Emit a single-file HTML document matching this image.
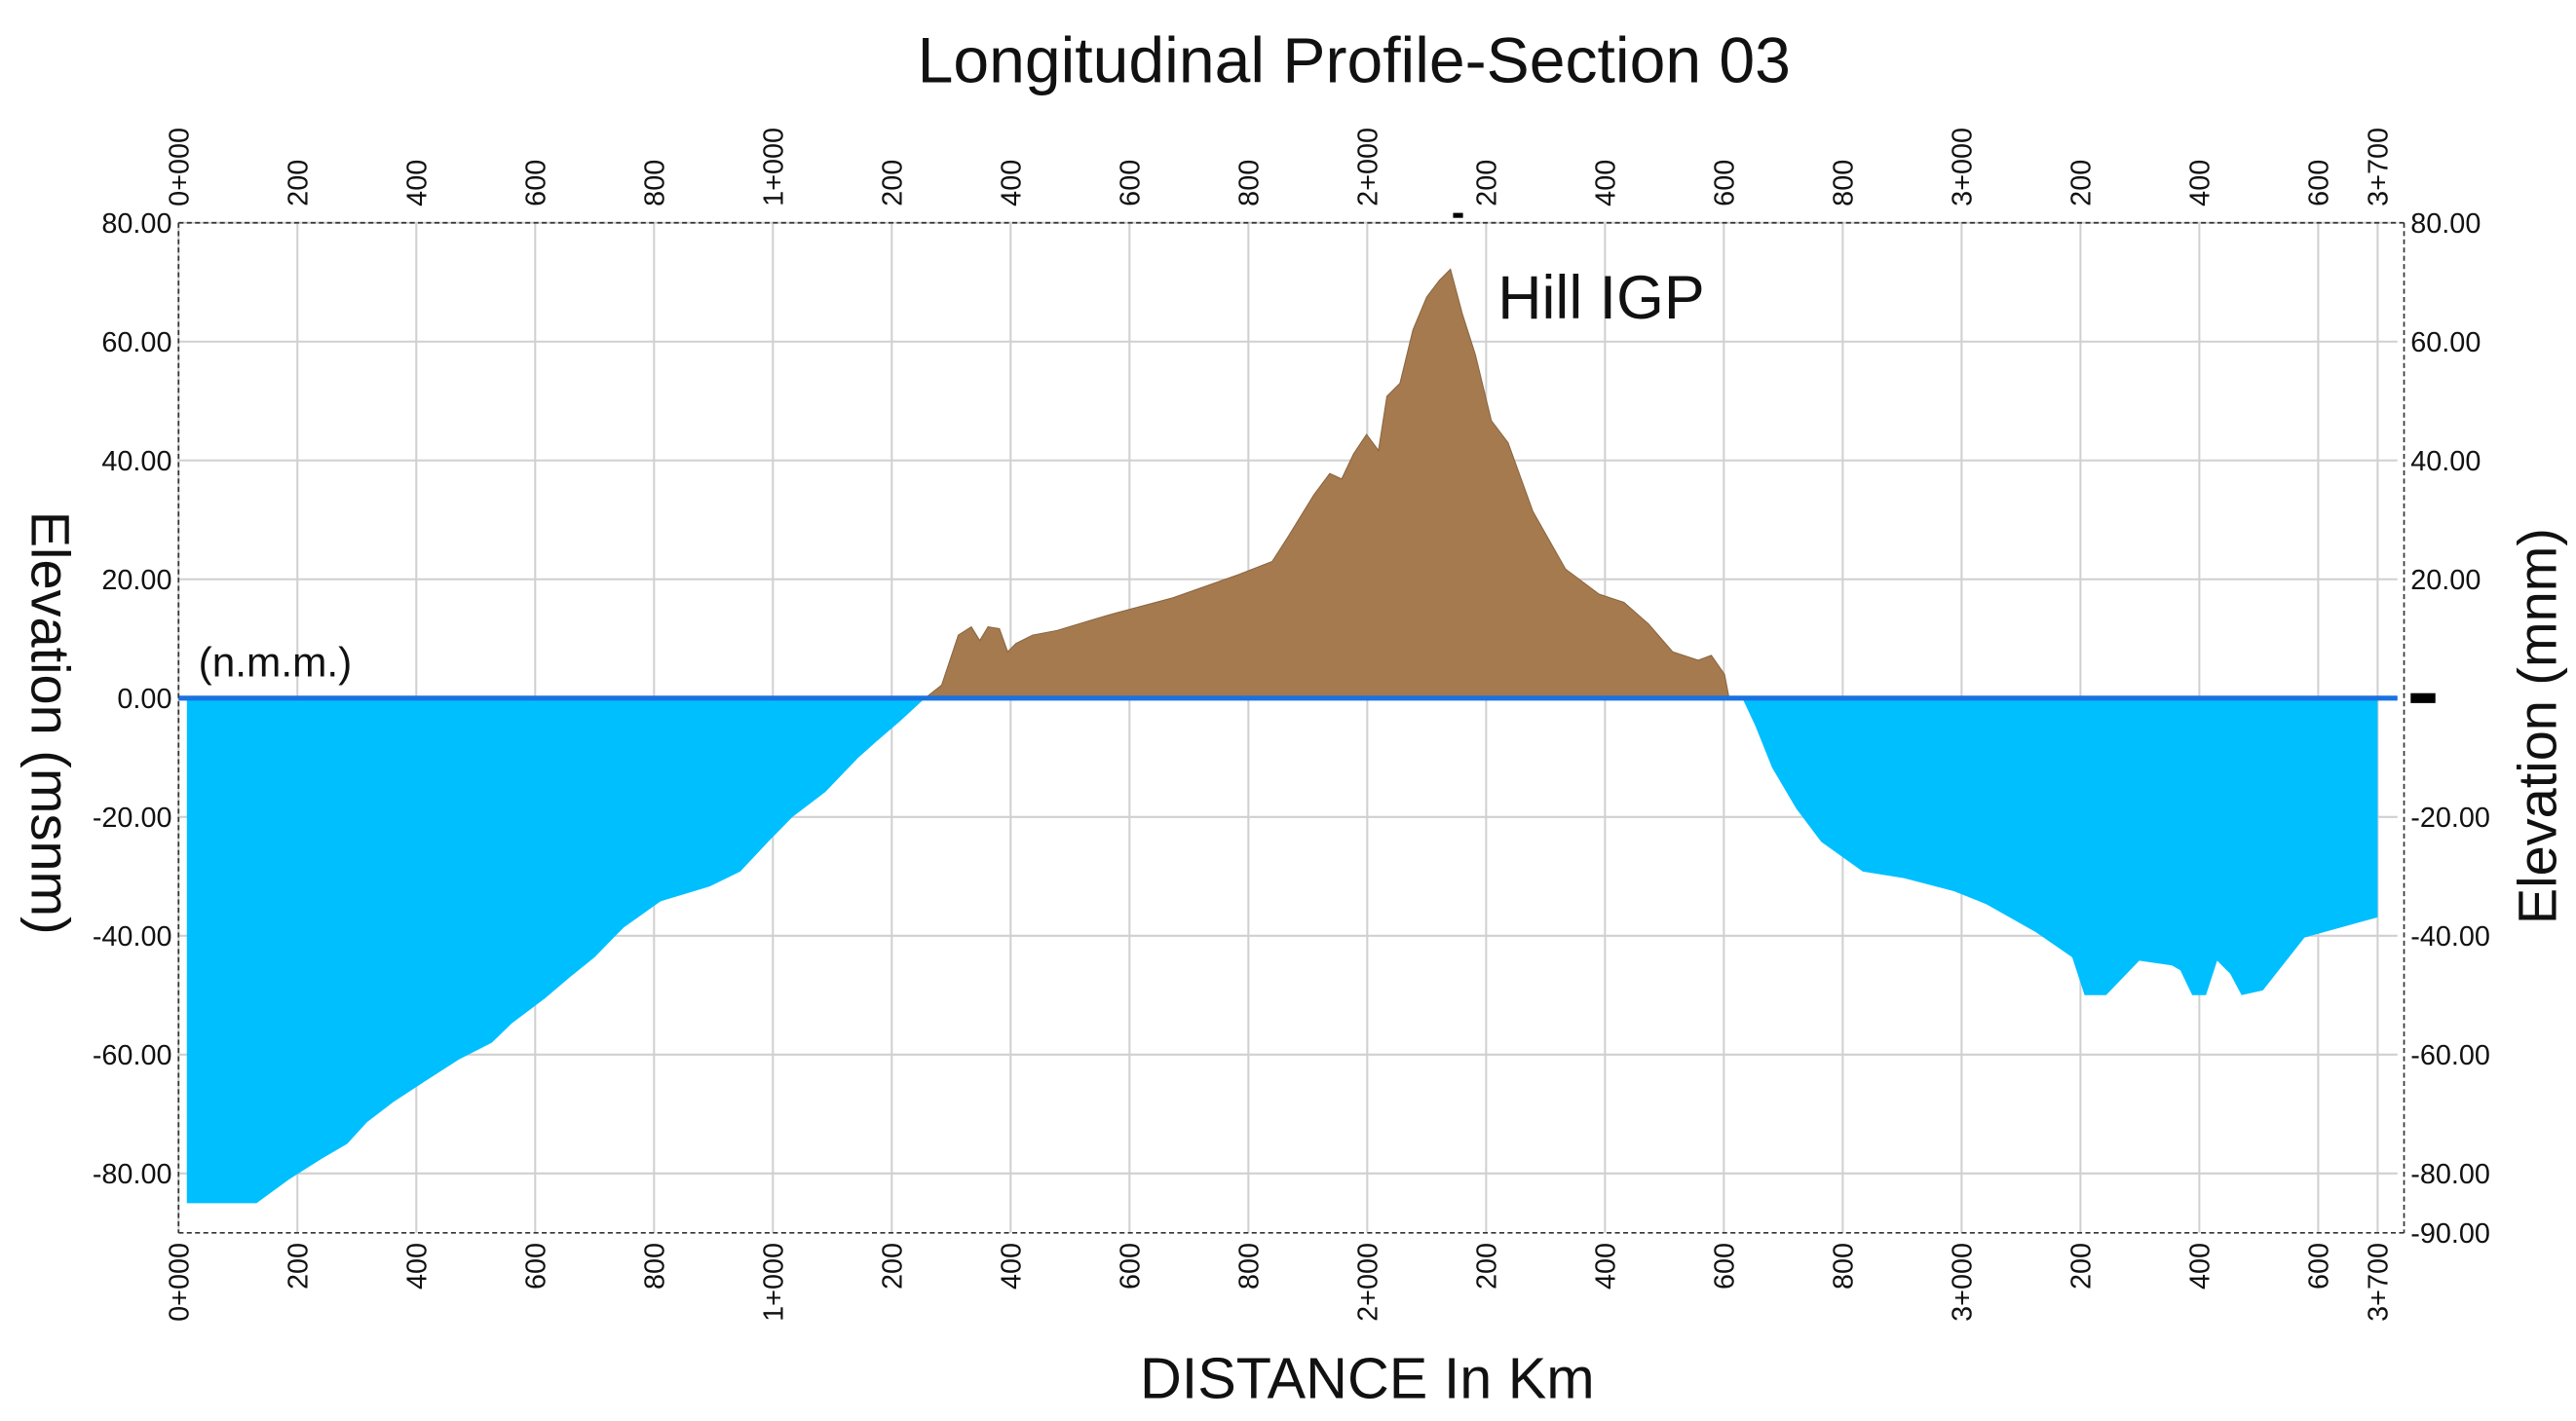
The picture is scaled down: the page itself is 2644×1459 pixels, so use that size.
<!DOCTYPE html>
<html><head><meta charset="utf-8"><style>
html,body{margin:0;padding:0;background:#fff;}
svg{display:block;}
text{font-family:"Liberation Sans",Arial,sans-serif;fill:#111;}
</style></head><body>
<svg id="chart" width="2644" height="1459" viewBox="0 0 1560 861" xmlns="http://www.w3.org/2000/svg">
<defs>
<clipPath id="above"><rect x="100" y="100" width="1400" height="323"/></clipPath>
<clipPath id="below"><rect x="100" y="423" width="1400" height="400"/></clipPath>
</defs>
<g id="grid"></g>
<g id="fills"></g>
<g id="axes"></g>
<text x="820" y="50" font-size="39" text-anchor="middle">Longitudinal Profile-Section 03</text>
<text x="828" y="847" font-size="35" text-anchor="middle">DISTANCE In Km</text>
<text transform="translate(19,438) rotate(90)" font-size="33" text-anchor="middle">Elevation (msnm)</text>
<text transform="translate(1548,440) rotate(-90)" font-size="33" text-anchor="middle">Elevation (mnm)</text>
<text x="120" y="410" font-size="25">(n.m.m.)</text>
<text x="907" y="193" font-size="37">Hill IGP</text>
</svg>
<script>
const distances = [14,131,186,241,284,317,361,416,472,527,561,617,658,700,749,811,894,945,992,1033,1088,1144,1172,1214,1256,
 1284,1312,1334,1348,1362,1381,1395,1409,1437,1478,1561,1673,1784,1840,1867,1910,1937,1957,1977,1999,2019,2033,2055,2077,2100,2121,2140,2160,2182,2209,2237,2279,2334,2390,2432,2473,2514,2557,2579,2601,2609,
 2631,2653,2681,2722,2764,2834,2903,2987,3042,3125,3186,3207,3243,3299,3354,3368,3388,3411,3430,3452,3471,3507,3577,3700,3700];
const elevations = [-85,-85,-81,-77.5,-75,-71.4,-68,-64.4,-60.8,-58,-54.7,-50.5,-47,-43.6,-38.6,-34.2,-31.7,-29.2,-24.2,-20,-15.8,-10,-7.5,-3.9,0,
 2.2,10.6,12,9.7,12,11.7,7.8,9.2,10.6,11.4,13.9,16.9,20.8,23,27.2,34.2,37.8,36.9,41.1,44.4,41.7,50.8,53,62,67.5,70.3,72.2,64.7,57.8,46.7,43,31.4,21.7,17.5,16.1,12.5,7.8,6.4,7.2,4,0,
 0,-4.7,-11.7,-18.6,-24.2,-29.2,-30.3,-32.5,-34.7,-39.4,-43.6,-50,-50,-44.2,-45,-45.8,-50,-50,-44.2,-46.4,-50,-49.2,-40.3,-36.9,0];
const xTicks = [0,200,400,600,800,1000,1200,1400,1600,1800,2000,2200,2400,2600,2800,3000,3200,3400,3600,3700];
const xTickLabels = ["0+000","200","400","600","800","1+000","200","400","600","800","2+000","200","400","600","800","3+000","200","400","600","3+700"];
const yTicks = [80,60,40,20,0,-20,-40,-60,-80];
const rightYTicks = [80,60,40,20,-20,-40,-60,-80,-90];

const NS="http://www.w3.org/2000/svg";
const X0=108, XS=0.36, Y0=423, YS=3.6, LEFT=108, RIGHT=1452, TOP=135, BOT=747;
function xs(d){return X0+d*XS;}
function ys(e){return Y0-e*YS;}
function mk(tag,attrs,parent){const el=document.createElementNS(NS,tag);for(const k in attrs)el.setAttribute(k,attrs[k]);parent.appendChild(el);return el;}
const grid=document.getElementById('grid'), fills=document.getElementById('fills'), axes=document.getElementById('axes');

for(let i=0;i<xTicks.length;i++){
  const l=mk('line',{x1:xs(xTicks[i]),x2:xs(xTicks[i]),y1:TOP,y2:BOT,stroke:'#d0d0d0','stroke-width':1.2},grid);
  
  
}
for(const v of yTicks){
  const l=mk('line',{x1:LEFT,x2:RIGHT,y1:ys(v),y2:ys(v),stroke:'#d0d0d0','stroke-width':1.2},grid);
  
  
}

let d='M'+xs(distances[0])+','+Y0;
for(let i=0;i<distances.length;i++) d+=' L'+xs(distances[i]).toFixed(1)+','+ys(elevations[i]).toFixed(1);
d+=' L'+xs(distances[distances.length-1])+','+Y0+' Z';
const hill=mk('path',{d:d,fill:'#a47a4e',stroke:'#8a6440','stroke-width':0.6,'clip-path':'url(#above)'},fills);


const water=mk('path',{d:d,fill:'#00bfff','clip-path':'url(#below)'},fills);


const zl=mk('line',{x1:LEFT,x2:RIGHT,y1:Y0,y2:Y0,stroke:'#1a72e0','stroke-width':3},fills);



const axStyle={stroke:'#333','stroke-width':1,'stroke-dasharray':'3,2'};
const la=mk('line',Object.assign({x1:LEFT,x2:LEFT,y1:TOP,y2:BOT},axStyle),axes);


const ra=mk('line',Object.assign({x1:1456,x2:1456,y1:TOP,y2:BOT},axStyle),axes);


const ta=mk('line',Object.assign({x1:LEFT,x2:1456,y1:TOP,y2:TOP},axStyle),axes);


const ba=mk('line',Object.assign({x1:LEFT,x2:1456,y1:BOT,y2:BOT},axStyle),axes);



for(let i=0;i<xTicks.length;i++){
  const x=xs(xTicks[i])+6;
  const t=mk('text',{transform:'translate('+x+',125) rotate(-90)','font-size':17,'text-anchor':'start'},axes);
  t.textContent=xTickLabels[i];
  
  
  const b=mk('text',{transform:'translate('+x+',753) rotate(-90)','font-size':17,'text-anchor':'end'},axes);
  b.textContent=xTickLabels[i];
  
  
}
for(const v of yTicks){
  const t=mk('text',{x:104,y:ys(v)+6,'font-size':17,'text-anchor':'end'},axes);
  t.textContent=v.toFixed(2);
  
  
}
for(const v of rightYTicks){
  const t=mk('text',{x:1460,y:ys(v)+6,'font-size':17,'text-anchor':'start'},axes);
  t.textContent=v.toFixed(2);
  
  
}
const mkr=mk('rect',{x:1460,y:Y0-3,width:15,height:6,fill:'#000'},axes);


const pk=mk('rect',{x:880,y:129,width:6,height:3,fill:'#000'},axes);


</script>
</body></html>
